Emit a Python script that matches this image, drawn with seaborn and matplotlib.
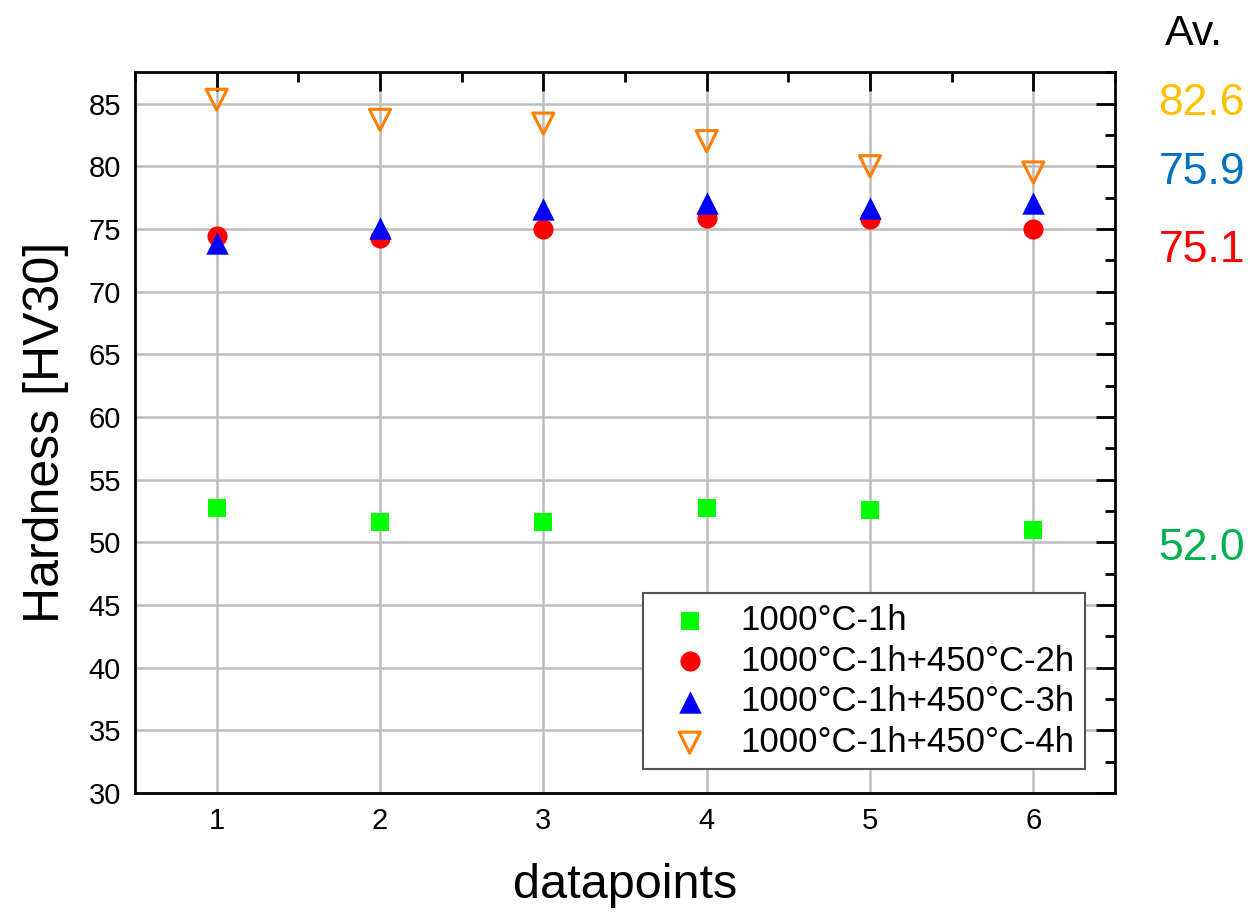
import matplotlib.pyplot as plt
import seaborn as sns
from matplotlib.ticker import MultipleLocator

datapoints = [1, 2, 3, 4, 5, 6]
h_1000_1h = [52.7, 51.6, 51.6, 52.7, 52.6, 51.0]
h_450_2h = [74.4, 74.3, 75.0, 75.9, 75.8, 75.0]
h_450_3h = [73.9, 75.1, 76.6, 77.1, 76.7, 77.1]
h_450_4h = [85.3, 83.7, 83.4, 82.0, 80.0, 79.5]

labels = ["1000°C-1h", "1000°C-1h+450°C-2h",
          "1000°C-1h+450°C-3h", "1000°C-1h+450°C-4h"]
averages = ["82.6", "75.9", "75.1", "52.0"]
avg_colors = ["#FFC000", "#0070C0", "#FF0000", "#00B050"]
# vertical spots of the average labels (in hardness units, as in the original)
avg_y = [85.0, 79.5, 73.3, 49.5]

sns.set_style("white")
plt.rcParams["font.family"] = ["Liberation Sans", "DejaVu Sans"]
plt.rcParams["text.color"] = "black"
plt.rcParams["axes.labelcolor"] = "black"
plt.rcParams["xtick.color"] = "black"
plt.rcParams["ytick.color"] = "black"

fig = plt.figure(figsize=(12.5, 9.14), dpi=100)
ax = fig.add_axes([0.108, 0.1324, 0.784, 0.7886])

sns.scatterplot(x=datapoints, y=h_1000_1h, ax=ax, marker="s", s=150,
                color="#00FF00", linewidth=0, label=labels[0], zorder=3)
sns.scatterplot(x=datapoints, y=h_450_2h, ax=ax, marker="o", s=210,
                color="#FF0000", linewidth=0, label=labels[1], zorder=3)
sns.scatterplot(x=datapoints, y=h_450_3h, ax=ax, marker="^", s=260,
                color="#0000FF", linewidth=0, label=labels[2], zorder=4)
sns.scatterplot(x=datapoints, y=h_450_4h, ax=ax, marker="v", s=230,
                facecolor="none", edgecolor="#FF7F00", linewidth=2.2,
                label=labels[3], zorder=3)

ax.set_xlim(0.5, 6.5)
ax.set_ylim(30, 87.5)
ax.xaxis.set_major_locator(MultipleLocator(1))
ax.xaxis.set_minor_locator(MultipleLocator(0.5))
ax.yaxis.set_major_locator(MultipleLocator(5))
ax.yaxis.set_minor_locator(MultipleLocator(2.5))

ax.grid(True, which="major", color="#bdbdbd", linewidth=1.8)
ax.set_axisbelow(True)
for sp in ax.spines.values():
    sp.set_color("black")
    sp.set_linewidth(2)
ax.tick_params(which="both", direction="in", top=True, right=True,
               color="black", width=2)
ax.tick_params(which="major", length=14, labelsize=21, pad=10)
ax.tick_params(which="minor", length=7)

ax.set_xlabel("datapoints", fontsize=35, labelpad=20)
ax.set_ylabel("Hardness [HV30]", fontsize=36, labelpad=14)

leg = ax.legend(loc="lower right", bbox_to_anchor=(0.969, 0.033),
                fontsize=25, frameon=True, fancybox=False, framealpha=1,
                edgecolor="#555555", handletextpad=0.4, borderpad=0.3,
                labelspacing=0.22, handlelength=2.1, borderaxespad=0)
leg.get_frame().set_linewidth(1.5)

fig.text(0.955, 0.963, "Av.", fontsize=31, ha="center", va="center")
for txt, col, yv in zip(averages, avg_colors, avg_y):
    ax.annotate(txt, xy=(0, yv), xycoords=("figure fraction", "data"),
                xytext=(1245, 0), textcoords="offset pixels",
                fontsize=32, color=col, ha="right", va="center",
                annotation_clip=False)

fig.savefig("out.png", dpi=100)
